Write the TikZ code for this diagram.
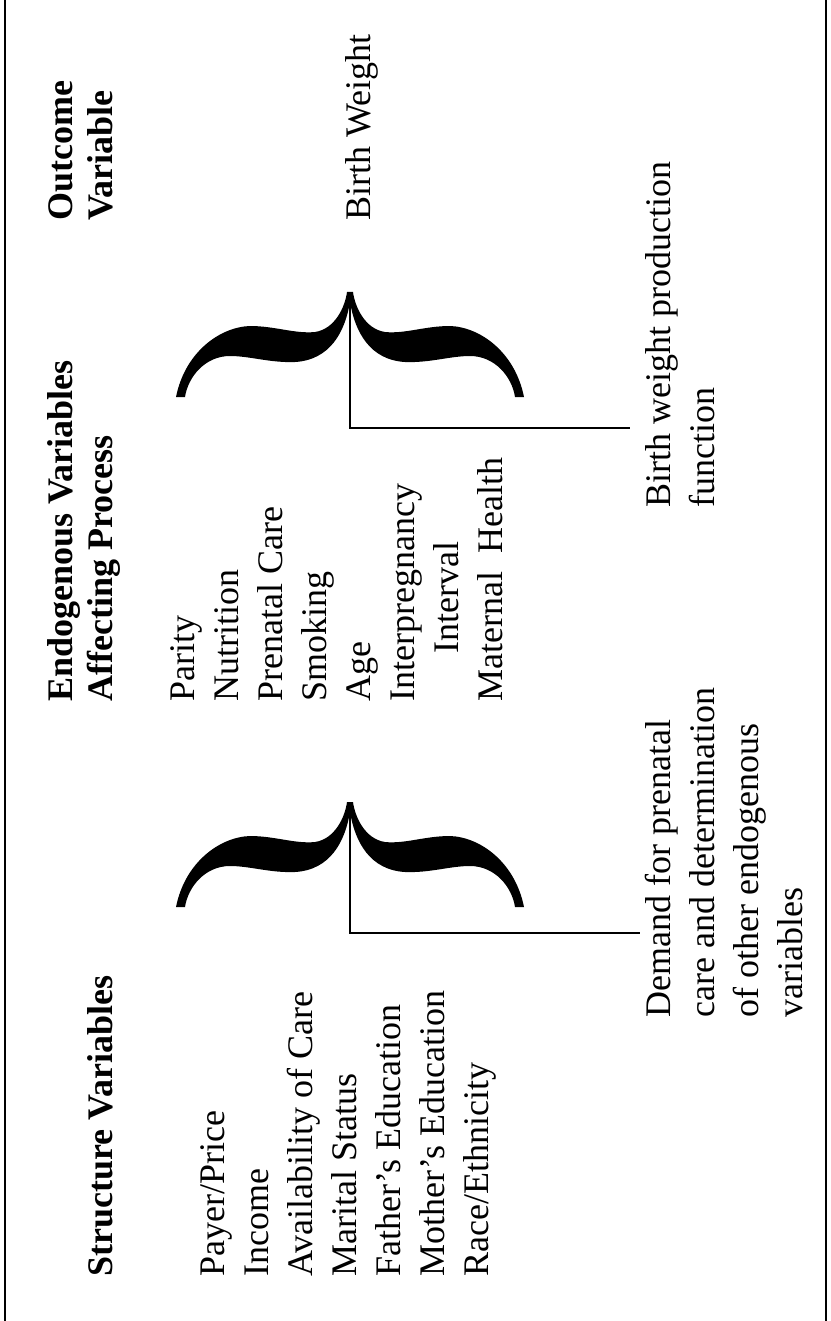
\documentclass[tikz,border=0pt]{standalone}
\usepackage{fontspec}
\setmainfont{Liberation Serif}
\begin{document}
\begin{tikzpicture}[x=1pt,y=-1pt,
  txt/.style={rotate=90, anchor=base west, inner sep=0pt, font=\fontsize{36}{44}\selectfont},
  hd/.style={rotate=90, anchor=base west, inner sep=0pt, font=\fontsize{36}{44}\selectfont\bfseries},
  rule/.style={line width=2.2pt},
  bracepic/.pic={
    \fill (-174,105) .. controls (-165,60) and (-130,35) .. (-100,34)
      .. controls (-75,34) and (-55,42) .. (-35,40)
      .. controls (-15,37) and (-5,15) .. (-3,0) -- (3,0)
      .. controls (5,15) and (15,37) .. (35,40)
      .. controls (55,42) and (75,34) .. (100,34)
      .. controls (130,35) and (165,60) .. (174,105) -- (165,105)
      .. controls (162,85) and (145,64) .. (120,64)
      .. controls (100,64) and (80,71) .. (55,70)
      .. controls (20,68) and (5,40) .. (0,10)
      .. controls (-5,40) and (-20,68) .. (-55,70)
      .. controls (-80,71) and (-100,64) .. (-120,64)
      .. controls (-145,64) and (-162,85) .. (-165,105) -- cycle;
  }]
\useasboundingbox (0,0) rectangle (830,1321);
\fill[white] (0,0) rectangle (830,1321);
% frame lines
\coordinate (lt) at (5,0); \coordinate (lb) at (5,1321);
\coordinate (rt) at (826,0); \coordinate (rb) at (826,1321);
\draw[rule] (lt) -- (lb);
\draw[rule] (rt) -- (rb);

% headings
\node[hd] (h1a) at (72,221) {Outcome};
\node[hd] (h1b) at (112,221) {Variable};
\node[hd] (h2a) at (72,702) {Endogenous Variables};
\node[hd] (h2b) at (112,702) {Affecting Process};
\node[hd] (h3) at (112,1277) {Structure Variables};

% outcome
\node[txt] (bw) at (370,221) {Birth Weight};

% endogenous list
\node[txt] (e1) at (194,702) {Parity};
\node[txt] (e2) at (238,702) {Nutrition};
\node[txt] (e3) at (282,702) {Prenatal Care};
\node[txt] (e4) at (326,702) {Smoking};
\node[txt] (e5) at (370,702) {Age};
\node[txt] (e6) at (414,702) {Interpregnancy};
\node[txt] (e7) at (458,654) {Interval};
\node[txt] (e8) at (502,702) {Maternal\ \ Health};

% structure list
\node[txt] (s1) at (224,1277) {Payer/Price};
\node[txt] (s2) at (268,1277) {Income};
\node[txt] (s3) at (312,1277) {Availability of Care};
\node[txt] (s4) at (356,1277) {Marital Status};
\node[txt] (s5) at (400,1277) {Father’s Education};
\node[txt] (s6) at (444,1277) {Mother’s Education};
\node[txt] (s7) at (488,1277) {Race/Ethnicity};

% process labels
\node[txt] (p1) at (670,508) {Birth weight production};
\node[txt] (p2) at (714,508) {function};
\node[txt] (d1) at (670,1018) {Demand for prenatal};
\node[txt] (d2) at (714,1018) {care and determination};
\node[txt] (d3) at (758,1018) {of other endogenous};
\node[txt] (d4) at (802,1018) {variables};

% braces
\pic at (350,292) {bracepic};
\pic at (350,802) {bracepic};

% connectors
\coordinate (ut) at (350,300); \coordinate (uc) at (350,428); \coordinate (ue) at (630,428);
\coordinate (lt2) at (350,810); \coordinate (lc) at (350,933); \coordinate (le) at (640,933);
\draw[rule] (ut) -- (uc) -- (ue);
\draw[rule] (lt2) -- (lc) -- (le);
\end{tikzpicture}
\end{document}
